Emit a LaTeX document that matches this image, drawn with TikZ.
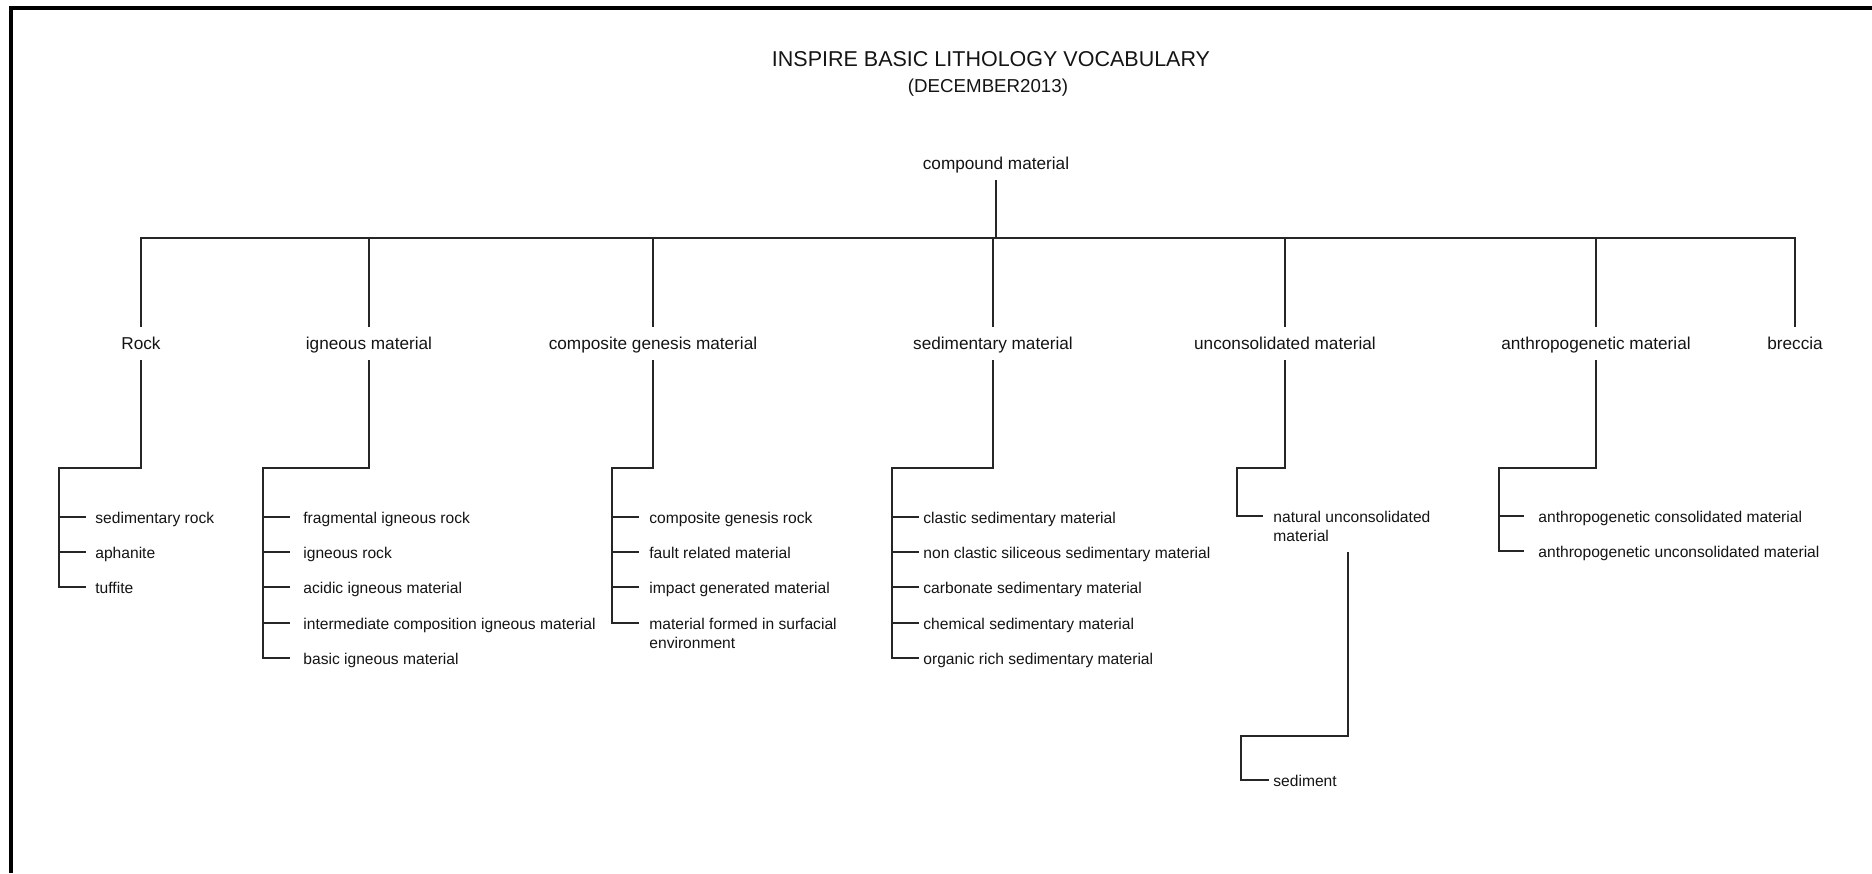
\documentclass[tikz,border=0pt]{standalone}
\usepackage{fontspec}
\setmainfont{Liberation Sans}
\usetikzlibrary{calc}

\tikzset{
  conn/.style={draw=black!85, line width=0.75pt},
  frame/.style={draw=black, line width=2pt},
  parent/.style={anchor=center, inner xsep=0pt, inner ysep=3pt,
    text height=0.84em, text depth=0.2em, text=black!92,
    font=\fontsize{8.6pt}{10pt}\selectfont},
  leaf/.style={anchor=west, inner sep=0pt,
    text height=0.84em, text depth=0.2em, text=black!92,
    font=\fontsize{7.8pt}{9.3pt}\selectfont},
}

\begin{document}
\begin{tikzpicture}[x=0.5pt, y=-0.5pt]
\useasboundingbox (0,0) rectangle (1872,873);

% outer frame: top and left edges, running to the page border
\draw[frame] (10.5,873) -- (10.5,8) -- (1872,8);

% heading
\node[anchor=base, inner sep=0pt, text=black!92, font=\fontsize{10.75pt}{12pt}\selectfont]
  (title) at (991,66.5) {INSPIRE BASIC LITHOLOGY VOCABULARY};
\node[anchor=base, inner sep=0pt, text=black!92, font=\fontsize{9.35pt}{11pt}\selectfont]
  (subtitle) at (988,92) {(DECEMBER2013)};

% root and first level
\node[parent] (cm) at (996,163.5) {compound material};
\coordinate (bus) at (996,238);

\node[parent] (rock) at (141,343.5) {Rock};
\node[parent] (ign)  at (369,343.5) {igneous material};
\node[parent] (cgm)  at (653,343.5) {composite genesis material};
\node[parent] (sed)  at (993,343.5) {sedimentary material};
\node[parent] (unc)  at (1285,343.5) {unconsolidated material};
\node[parent] (ant)  at (1596,343.5) {anthropogenetic material};
\node[parent] (brec) at (1795,343.5) {breccia};

\draw[conn] (cm.south) -- (cm.south |- bus);
\draw[conn] (rock.north) -- (rock.north |- bus) -- (brec.north |- bus) -- (brec.north);
\foreach \p in {ign,cgm,sed,unc,ant}
  \draw[conn] (\p.north) -- (\p.north |- bus);

% Rock
\coordinate (rkb) at (59,468);
\node[leaf] (sedr) at (95,517) {sedimentary rock};
\node[leaf] (aph)  at (95,552) {aphanite};
\node[leaf] (tuf)  at (95,587) {tuffite};
\draw[conn] (rock.south) |- (rkb) -- (rkb |- tuf.west) -- ($(tuf.west)+(-9,0)$);
\foreach \c in {sedr,aph}
  \draw[conn] (rkb |- \c.west) -- ($(\c.west)+(-9,0)$);

% igneous material
\coordinate (igb) at (263,468);
\node[leaf] (fir) at (303,517) {fragmental igneous rock};
\node[leaf] (igr) at (303,552) {igneous rock};
\node[leaf] (aci) at (303,587) {acidic igneous material};
\node[leaf] (imd) at (303,623) {intermediate composition igneous material};
\node[leaf] (bas) at (303,658) {basic igneous material};
\draw[conn] (ign.south) |- (igb) -- (igb |- bas.west) -- ($(bas.west)+(-13,0)$);
\foreach \c in {fir,igr,aci,imd}
  \draw[conn] (igb |- \c.west) -- ($(\c.west)+(-13,0)$);

% composite genesis material
\coordinate (cgb) at (612,468);
\node[leaf] (cgr) at (649,517) {composite genesis rock};
\node[leaf] (frm) at (649,552) {fault related material};
\node[leaf] (igm) at (649,587) {impact generated material};
\node[leaf] (mfs) at (649,623)
  {\begin{tabular}[t]{@{}l@{}}material formed in surfacial\\environment\end{tabular}};
\draw[conn] (cgm.south) |- (cgb) -- (cgb |- mfs.west) -- ($(mfs.west)+(-10,0)$);
\foreach \c in {cgr,frm,igm}
  \draw[conn] (cgb |- \c.west) -- ($(\c.west)+(-10,0)$);

% sedimentary material
\coordinate (sdb) at (892,468);
\node[leaf] (cls) at (923,517) {clastic sedimentary material};
\node[leaf] (ncs) at (923,552) {non clastic siliceous sedimentary material};
\node[leaf] (car) at (923,587) {carbonate sedimentary material};
\node[leaf] (che) at (923,623) {chemical sedimentary material};
\node[leaf] (org) at (923,658) {organic rich sedimentary material};
\draw[conn] (sed.south) |- (sdb) -- (sdb |- org.west) -- ($(org.west)+(-4,0)$);
\foreach \c in {cls,ncs,car,che}
  \draw[conn] (sdb |- \c.west) -- ($(\c.west)+(-4,0)$);

% unconsolidated material
\coordinate (ucb) at (1237,468);
\node[leaf] (nat) at (1273,516)
  {\begin{tabular}[t]{@{}l@{}}natural unconsolidated\\material\end{tabular}};
\draw[conn] (unc.south) |- (ucb) -- (ucb |- nat.west) -- ($(nat.west)+(-10,0)$);

\coordinate (natout) at (1348,552);
\coordinate (ntb) at (1241,736);
\node[leaf] (sedi) at (1273,780) {sediment};
\draw[conn] (natout) |- (ntb) -- (ntb |- sedi.west) -- ($(sedi.west)+(-4,0)$);

% anthropogenetic material
\coordinate (anb) at (1499,468);
\node[leaf] (acm) at (1538,516) {anthropogenetic consolidated material};
\node[leaf] (aum) at (1538,551) {anthropogenetic unconsolidated material};
\draw[conn] (ant.south) |- (anb) -- (anb |- aum.west) -- ($(aum.west)+(-14,0)$);
\draw[conn] (anb |- acm.west) -- ($(acm.west)+(-14,0)$);

\end{tikzpicture}
\end{document}
